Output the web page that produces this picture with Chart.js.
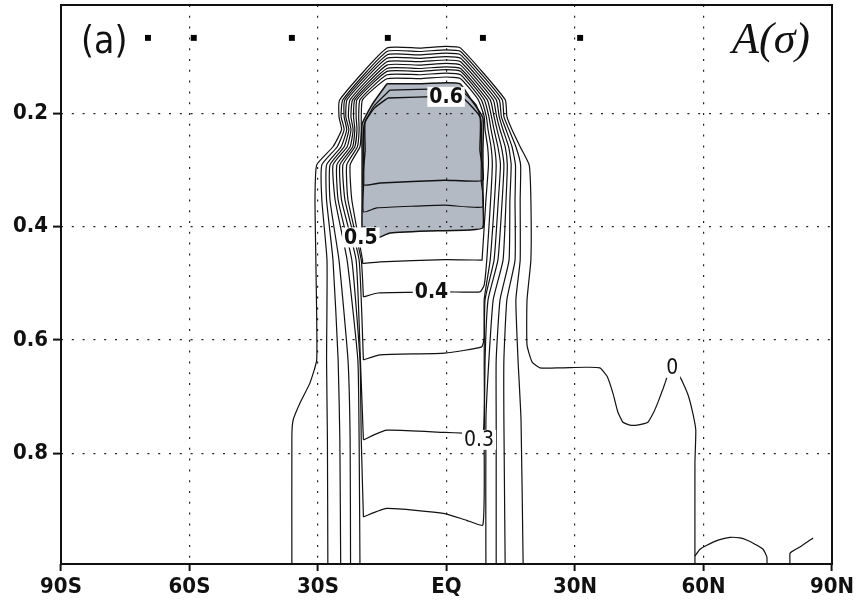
<!DOCTYPE html>
<html>
<head>
<meta charset="utf-8">
<script src="https://cdn.jsdelivr.net/npm/chart.js@4.4.0/dist/chart.umd.min.js"></script>
<style>
  html, body { margin: 0; padding: 0; background: #fff; }
</style>
</head>
<body>
<canvas id="chart" width="859" height="607"></canvas>
<script>
// axes
const xTickVals = [-90, -60, -30, 0, 30, 60, 90];
const xTickLabels = ['90S', '60S', '30S', 'EQ', '30N', '60N', '90N'];
const yTickVals = [0.2, 0.4, 0.6, 0.8];
const yTickLabels = ['0.2', '0.4', '0.6', '0.8'];

// tower contours 0 .. 0.45 (lat, sigma)
const levels = [0, 0.05, 0.1, 0.15, 0.2, 0.25, 0.3, 0.35, 0.4, 0.45];
const topSigma = [0.085, 0.091, 0.097, 0.103, 0.109, 0.115, 0.121, 0.126, 0.132, 0.139];
const domeTopLat = [-13.9, -6.2, -0.1, 3.3];
const domeBump = [0, 0, -0.003, 0];
const flankSigma = [0.176, 0.206, 0.229, 0.259, 0.291, 0.353, 0.459];
const leftFlank = [
  [-24.9, -25.1, -24.5, -26.5, -30.3, -30.7, -30.5],
  [-24.2, -24.6, -23.9, -25.5, -29.1, -29.1, -27.9],
  [-23.7, -23.9, -23.3, -24.6, -28.0, -28.0, -26.5],
  [-23.2, -23.5, -22.8, -23.9, -27.2, -27.2, -25.1],
  [-22.5, -22.9, -22.3, -23.2, -26.5, -26.0, -23.2],
  [-21.9, -22.3, -21.8, -22.5, -25.6, -25.3, -22.1],
  [-21.4, -21.7, -21.4, -21.9, -24.9, -24.5, -21.1],
  [-20.9, -21.1, -20.9, -21.4, -24.2, -23.7, -20.4],
  [-20.2, -20.5, -20.4, -20.8, -23.3, -23.0, -19.9],
  [-19.6, -19.9, -19.9, -20.2, -22.5, -22.1, -19.6]
];
const rightFlank = [
  [13.7, 14.1, 15.3, 17.2, 19.3, 19.7, 19.7],
  [13.0, 13.4, 14.6, 16.2, 17.3, 17.2, 17.2],
  [12.3, 12.8, 13.9, 15.3, 16.1, 16.0, 16.0],
  [11.6, 12.3, 13.2, 14.5, 15.1, 14.8, 14.6],
  [10.9, 11.7, 12.5, 13.7, 14.2, 13.9, 13.2],
  [10.2, 11.1, 11.8, 12.8, 13.4, 13.0, 12.0],
  [9.5, 10.5, 11.1, 12.0, 12.6, 12.1, 11.1],
  [8.8, 9.9, 10.4, 11.2, 11.6, 11.2, 10.2],
  [8.1, 9.3, 9.7, 10.4, 10.7, 10.3, 9.4],
  [7.4, 8.8, 9.0, 9.6, 9.8, 9.2, 8.3]
];
const lowerLeft = [
  [[-30.3, 0.635], [-31.9, 0.676], [-34.2, 0.711], [-35.8, 0.741], [-36.1, 0.771], [-36.1, 1.0]],
  [[-28.0, 0.635], [-27.8, 0.776], [-27.7, 1.0]],
  [[-25.3, 0.635], [-24.9, 0.776], [-24.7, 1.0]],
  [[-23.0, 0.635], [-22.5, 0.776], [-22.4, 1.0]],
  [[-20.7, 0.635], [-20.4, 0.776], [-20.2, 1.0]],
  [[-20.2, 0.635], [-19.9, 0.776], [-19.4, 0.912]],
  [[-20.1, 0.635], [-19.4, 0.776]],
  [[-19.4, 0.635]],
  [[-19.4, 0.524]],
  [[-19.6, 0.465]]
];
const lowerRight = [
  [[18.8, 0.529], [18.8, 0.609], [20.0, 0.639], [21.8, 0.649], [26.5, 0.649], [32.3, 0.648], [35.8, 0.649],
   [37.5, 0.664], [38.9, 0.695], [40.0, 0.727], [41.2, 0.745], [42.8, 0.750], [44.5, 0.750], [47.0, 0.745],
   [48.4, 0.727], [49.4, 0.709], [50.6, 0.685], [51.5, 0.665], [52.2, 0.650], [54.5, 0.665], [56.4, 0.697],
   [57.5, 0.729], [58.2, 0.759], [58.0, 0.817], [58.0, 1.0]],
  [[16.2, 0.529], [16.7, 0.635], [17.4, 0.741], [17.9, 1.0]],
  [[14.1, 0.529], [13.4, 0.635], [13.4, 0.741], [13.7, 1.0]],
  [[12.5, 0.529], [11.6, 0.635], [11.6, 0.741], [11.6, 1.0]],
  [[10.9, 0.529], [9.9, 0.635], [9.2, 0.741], [9.2, 1.0]],
  [[9.7, 0.529], [9.0, 0.635], [8.8, 0.776]],
  [[9.0, 0.529], [8.8, 0.635]],
  [[8.8, 0.529], [8.8, 0.596]],
  [[8.8, 0.503]],
  []
];
const bottoms = [
  [], [], [], [], [],
  [[-14.0, 0.897], [-0.4, 0.906], [4.7, 0.918], [8.5, 0.926]],
  [[-14.0, 0.759], [-0.4, 0.763], [3.9, 0.764], [8.5, 0.766]],
  [[-15.5, 0.626], [-0.4, 0.623], [8.2, 0.612]],
  [[-16.0, 0.517], [0.0, 0.515], [7.8, 0.515]],
  [[-15.5, 0.462], [-0.4, 0.458], [8.2, 0.459]]
];

// shaded core (0.5) and inner loops 0.55, 0.6
const shade50 = [[-13.9, 0.148], [-6.2, 0.148], [-0.1, 0.146], [3.2, 0.148], [5.5, 0.173], [8.5, 0.208], [8.5, 0.265],
  [8.5, 0.353], [8.5, 0.402], [5.5, 0.406], [-0.4, 0.407], [-13.2, 0.411], [-16.2, 0.420], [-19.0, 0.411],
  [-19.7, 0.402], [-19.7, 0.353], [-19.7, 0.265], [-19.7, 0.219], [-17.4, 0.185], [-13.9, 0.148]];
const loop55 = [[-13.2, 0.159], [-0.1, 0.157], [3.2, 0.159], [6.9, 0.185], [8.1, 0.215], [8.1, 0.318], [8.5, 0.365],
  [-0.4, 0.362], [-16.3, 0.367], [-19.4, 0.374], [-19.3, 0.318], [-19.3, 0.222], [-16.9, 0.187], [-13.2, 0.159]];
const loop60 = [[-13.7, 0.173], [-0.1, 0.170], [3.5, 0.171], [7.8, 0.206], [7.8, 0.265], [8.5, 0.318], [-0.4, 0.318],
  [-15.5, 0.323], [-19.4, 0.326], [-19.0, 0.265], [-19.0, 0.215], [-16.7, 0.190], [-13.7, 0.173]];

// small contours near the bottom right
const arcA = [[58.0, 0.981], [59.2, 0.969], [60.8, 0.962], [63.4, 0.953], [66.2, 0.948], [68.5, 0.949],
  [70.2, 0.953], [72.0, 0.960], [73.9, 0.969], [74.8, 0.983], [74.8, 1.0]];
const arcB = [[80.2, 1.0], [80.2, 0.976], [81.1, 0.971], [82.5, 0.965], [85.6, 0.949]];

// square markers along the top
const markerLat = [-69.7, -59.0, -36.1, -13.7, 8.5, 31.2];
const markerSigma = [0.067, 0.067, 0.067, 0.067, 0.067, 0.067];

// contour labels
const labelText = ['0.6', '0.5', '0.4', '0.3', '0'];
const labelLat = [-0.1, -20.0, -3.5, 7.6, 52.7];
const labelSigma = [0.171, 0.419, 0.515, 0.776, 0.649];
const labelBold = [true, true, true, false, false];

function towerPath(k) {
  const out = [];
  lowerLeft[k].slice().reverse().forEach(p => out.push(p));
  for (let r = flankSigma.length - 1; r >= 0; r--) out.push([leftFlank[k][r], flankSigma[r]]);
  domeTopLat.forEach((lat, i) => out.push([lat, topSigma[k] + domeBump[i]]));
  for (let r = 0; r < flankSigma.length; r++) out.push([rightFlank[k][r], flankSigma[r]]);
  lowerRight[k].forEach(p => out.push(p));
  if (bottoms[k].length) {
    bottoms[k].slice().reverse().forEach(p => out.push(p));
    out.push(out[0]);
  }
  return out;
}

const toXY = arr => arr.map(p => ({x: p[0], y: p[1]}));
const lineDs = (arr, w) => ({
  data: toXY(arr), showLine: true, pointRadius: 0, borderColor: '#111',
  borderWidth: w || 1.2, tension: 0.15, fill: false
});

const datasets = [];
levels.forEach((lv, k) => datasets.push(lineDs(towerPath(k))));
const shadeIndex = datasets.length;
datasets.push(lineDs(shade50, 1.5));
datasets.push(lineDs(loop55));
datasets.push(lineDs(loop60, 1.4));
datasets.push(lineDs(arcA));
datasets.push(lineDs(arcB));
datasets.push({
  data: markerLat.map((v, i) => ({x: v, y: markerSigma[i]})),
  showLine: false, pointStyle: 'rect', pointRadius: 4.2,
  backgroundColor: '#000', borderColor: '#000', borderWidth: 0
});

const tickFont = {family: '"DejaVu Sans Condensed", "DejaVu Sans"', size: 22, weight: 'bold'};

const decor = {
  id: 'decor',
  beforeDraw(chart) {
    const ctx = chart.ctx;
    const pts = chart.getDatasetMeta(shadeIndex).data;
    ctx.save();
    ctx.beginPath();
    pts.forEach((p, i) => i ? ctx.lineTo(p.x, p.y) : ctx.moveTo(p.x, p.y));
    ctx.closePath();
    ctx.fillStyle = '#b4bac4';
    ctx.fill();
    ctx.restore();
  },
  afterDatasetsDraw(chart) {
    const ctx = chart.ctx;
    const sx = chart.scales.x, sy = chart.scales.y;
    ctx.save();
    ctx.textAlign = 'center';
    ctx.textBaseline = 'middle';
    labelText.forEach((t, i) => {
      ctx.font = (labelBold[i] ? 'bold ' : '') + '21px "DejaVu Sans Condensed", "DejaVu Sans"';
      const x = sx.getPixelForValue(labelLat[i]);
      const y = sy.getPixelForValue(labelSigma[i]);
      const w = ctx.measureText(t).width + 4;
      ctx.fillStyle = '#fff';
      ctx.fillRect(x - w / 2, y - 10, w, 20);
      ctx.fillStyle = '#111';
      ctx.fillText(t, x, y + 1);
    });
    ctx.restore();
  },
  afterDraw(chart) {
    const ctx = chart.ctx;
    const a = chart.chartArea;
    ctx.save();
    ctx.strokeStyle = '#111';
    ctx.lineWidth = 2;
    ctx.strokeRect(a.left, a.top, a.right - a.left, a.bottom - a.top);
    ctx.fillStyle = '#111';
    ctx.textBaseline = 'alphabetic';
    ctx.textAlign = 'left';
    ctx.font = '37px "DejaVu Sans Condensed", "DejaVu Sans"';
    ctx.fillText('(a)', a.left + 20, 53);
    ctx.font = 'italic 44px "Liberation Serif", serif';
    ctx.textAlign = 'right';
    ctx.fillText('A(σ)', a.right - 22, 53);
    ctx.restore();
  }
};

new Chart(document.getElementById('chart'), {
  type: 'scatter',
  data: {datasets},
  options: {
    responsive: false,
    animation: false,
    events: [],
    layout: {padding: {top: 5, right: 27, left: 0, bottom: 0}},
    plugins: {legend: {display: false}, tooltip: {enabled: false}},
    scales: {
      x: {
        type: 'linear', min: -90, max: 90,
        afterBuildTicks: s => { s.ticks = xTickVals.map(v => ({value: v})); },
        afterFit: s => { s.height = 43; s.paddingLeft = 0; s.paddingRight = 0; },
        ticks: {callback: (v, i) => xTickLabels[i], font: tickFont, color: '#111', padding: 3,
          maxRotation: 0, autoSkip: false},
        grid: {color: '#222', lineWidth: 1.2, tickLength: 7, tickColor: '#111', tickWidth: 2, tickBorderDash: []},
        border: {display: false, dash: [2, 8.8]}
      },
      y: {
        type: 'linear', reverse: true, min: 0.009, max: 0.995,
        afterBuildTicks: s => { s.ticks = yTickVals.map(v => ({value: v})); },
        afterFit: s => { s.width = 61; s.paddingTop = 0; s.paddingBottom = 0; },
        ticks: {callback: (v, i) => yTickLabels[i], font: tickFont, color: '#111', padding: 5, autoSkip: false},
        grid: {color: '#222', lineWidth: 1.2, tickLength: 8, tickColor: '#111', tickWidth: 2, tickBorderDash: []},
        border: {display: false, dash: [2, 8.8]}
      }
    }
  },
  plugins: [decor]
});
</script>
</body>
</html>
